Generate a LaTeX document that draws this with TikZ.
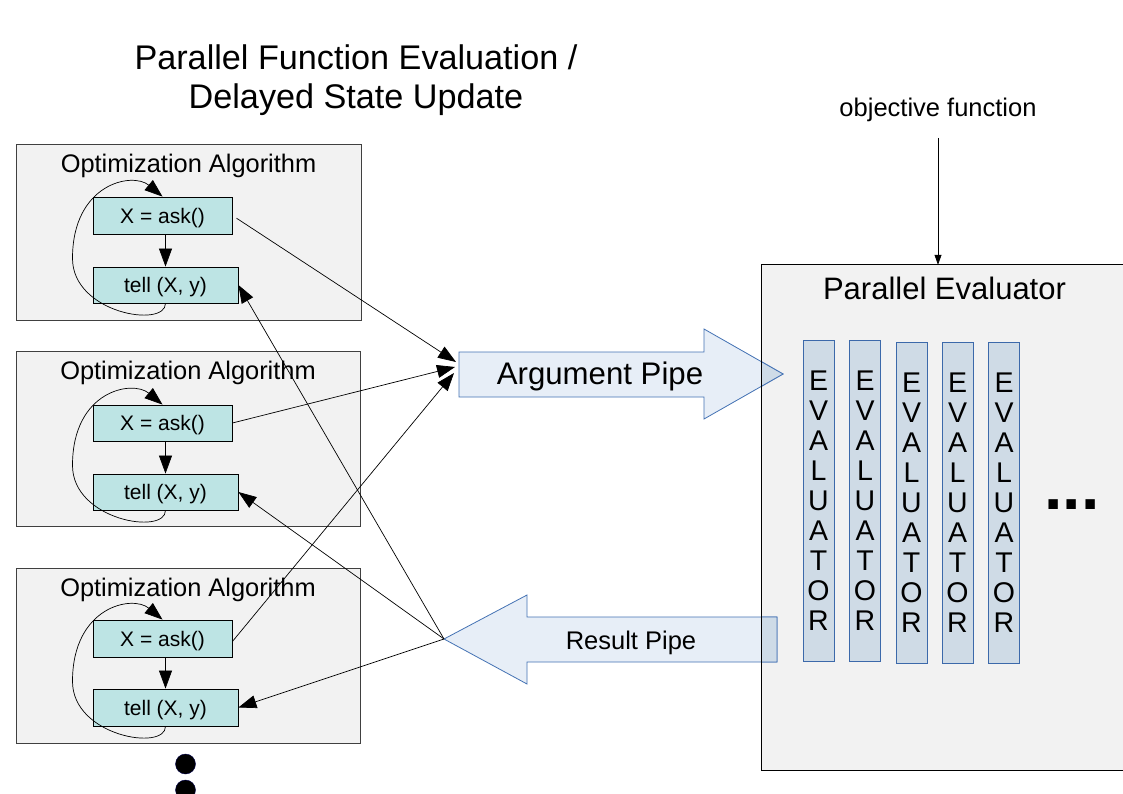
\documentclass[tikz,border=0pt]{standalone}
\usepackage{fontspec}
\setmainfont{Liberation Sans}
\usetikzlibrary{arrows.meta,calc}
\definecolor{boxgray}{RGB}{242,242,242}
\definecolor{askfill}{RGB}{189,228,228}
\definecolor{pipefill}{RGB}{231,238,247}
\definecolor{pipeline}{RGB}{68,114,180}
\definecolor{pipedark}{RGB}{206,219,231}
\definecolor{evalfill}{RGB}{207,219,230}
\definecolor{evalline}{RGB}{60,105,170}
\begin{document}
\begin{tikzpicture}[x=1pt,y=-1pt,
  algbox/.style={draw=black!75, line width=0.8pt, fill=boxgray, minimum width=345pt, minimum height=176pt, inner sep=0pt},
  callbox/.style={draw=black, line width=0.8pt, fill=askfill, minimum height=37pt, inner sep=0pt,
     font=\fontsize{21}{25}\selectfont, text height=15pt, text depth=0pt},
  algtitle/.style={anchor=base, font=\fontsize{25.4}{30}\selectfont},
  arr/.style={line width=0.7pt, -{Triangle[length=18pt,width=13pt]}},
  pipe/.style={draw=pipeline, line width=0.8pt, fill=pipefill},
  evalcol/.style={draw=evalline, line width=0.9pt, fill=evalfill, minimum width=31pt, minimum height=321pt,
     inner sep=0pt, align=center, font=\fontsize{28.5}{30}\selectfont},
  dot/.style={circle, fill=black, draw=black!70!blue, minimum size=20pt, inner sep=0pt}
]
\useasboundingbox (0,0) rectangle (1123,794);
\fill[white] (0,0) rectangle (1123,794);

% title
\node[anchor=base, font=\fontsize{34.2}{40}\selectfont] (title1) at (356,70) {Parallel Function Evaluation /};
\node[anchor=base, font=\fontsize{34.2}{40}\selectfont] (title2) at (356,109) {Delayed State Update};

% optimisation boxes
\node[algbox] (b1) at (188.5,232) {};
\node[algbox, minimum width=344pt, minimum height=175pt] (b2) at (188,438.5) {};
\node[algbox, minimum width=344pt, minimum height=175pt] (b3) at (188,655.5) {};
\node[algtitle] (h1) at ($(b1.north)+(0,29)$) {Optimization Algorithm};
\node[algtitle] (h2) at ($(b2.north)+(0,29)$) {Optimization Algorithm};
\node[algtitle] (h3) at ($(b3.north)+(0,29)$) {Optimization Algorithm};

\node[callbox, minimum width=139pt] (a1) at (162.5,215.5) {X = ask()};
\node[callbox, minimum width=145pt, minimum height=36pt] (t1) at (165.5,285) {tell (X, y)};
\node[callbox, minimum width=139pt, minimum height=36pt] (a2) at (162.5,423) {X = ask()};
\node[callbox, minimum width=145pt, minimum height=36pt] (t2) at (165.5,492) {tell (X, y)};
\node[callbox, minimum width=139pt] (a3) at (162.5,638.5) {X = ask()};
\node[callbox, minimum width=145pt] (t3) at (165.5,707.5) {tell (X, y)};

\foreach \i in {1,2,3}{
  \draw[arr] (t\i.north |- a\i.south) -- (t\i.north);
  \coordinate (l\i) at ($(t\i.south)+(-93,-45)$);
  \draw[arr] (t\i.south) .. controls ($(t\i.south)+(0,25)$) and ($(l\i)+(0,55)$) .. (l\i)
     .. controls ($(l\i)+(0,-75)$) and ($(a\i.north)+(-30,-25)$) .. (a\i.north);
}

% dots below
\node[dot] (d1) at (185.5,764) {};
\node[dot] (d2) at (185.5,790) {};

% parallel evaluator
\node[fill=boxgray, minimum width=370pt, minimum height=505pt, inner sep=0pt] (pe) at (947,517.5) {};
\node[anchor=base, font=\fontsize{31}{36}\selectfont] (petitle) at (944.5,299) {Parallel Evaluator};
\node[anchor=base, font=\fontsize{25.5}{30}\selectfont] (obj) at (938,117) {objective function};
\coordinate (objstart) at (938,138);
\draw[line width=0.7pt, -{Triangle[length=10pt,width=7pt]}] (objstart) -- (objstart |- pe.north);

% pipes
\path[pipe] (459,352) -- (704,352) -- (704,329) -- (783,374) -- (704,419) -- (704,397) -- (459,397) -- cycle;
\path[pipe] (444,639) -- (527,595) -- (527,617) -- (777,617) -- (777,662) -- (527,662) -- (527,684) -- cycle;
\begin{scope}
  \clip (pe.north west) rectangle (pe.south east);
  \path[pipe, fill=pipedark] (459,352) -- (704,352) -- (704,329) -- (783,374) -- (704,419) -- (704,397) -- (459,397) -- cycle;
  \path[pipe, fill=pipedark] (444,639) -- (527,595) -- (527,617) -- (777,617) -- (777,662) -- (527,662) -- (527,684) -- cycle;
\end{scope}
\draw[line width=0.9pt] (pe.south east) -- (pe.south west) -- (pe.north west) -- (pe.north east);
\node[anchor=base, font=\fontsize{31.2}{36}\selectfont] (argtext) at (600,384) {Argument Pipe};
\node[anchor=base, font=\fontsize{25.5}{30}\selectfont] (restext) at (631,649) {Result Pipe};
\coordinate (argin1) at (456,362);
\coordinate (argin2) at (455,367);
\coordinate (argin3) at (454,373);
\coordinate (restip) at (444,639);

% evaluator columns
\node[evalcol] (e1) at (818.5,500.5) {E\\V\\A\\L\\U\\A\\T\\O\\R};
\node[evalcol] (e2) at (865,500.5) {E\\V\\A\\L\\U\\A\\T\\O\\R};
\node[evalcol] (e3) at (911.5,502.5) {E\\V\\A\\L\\U\\A\\T\\O\\R};
\node[evalcol] (e4) at (957.5,502.5) {E\\V\\A\\L\\U\\A\\T\\O\\R};
\node[evalcol] (e5) at (1004,502.5) {E\\V\\A\\L\\U\\A\\T\\O\\R};
\node[anchor=base, font=\fontsize{66}{66}\selectfont\bfseries] (more) at (1072,509) {...};

% connectors
\draw[arr, shorten <=5pt] (a1.east) -- (argin1);
\draw[arr] (a2.east) -- (argin2);
\draw[arr] ($(a3.east)+(0,3)$) -- (argin3);
\draw[arr] (restip) -- (t1.east);
\draw[arr] (restip) -- (t2.east);
\draw[arr] (restip) -- (t3.east);
\end{tikzpicture}
\end{document}
